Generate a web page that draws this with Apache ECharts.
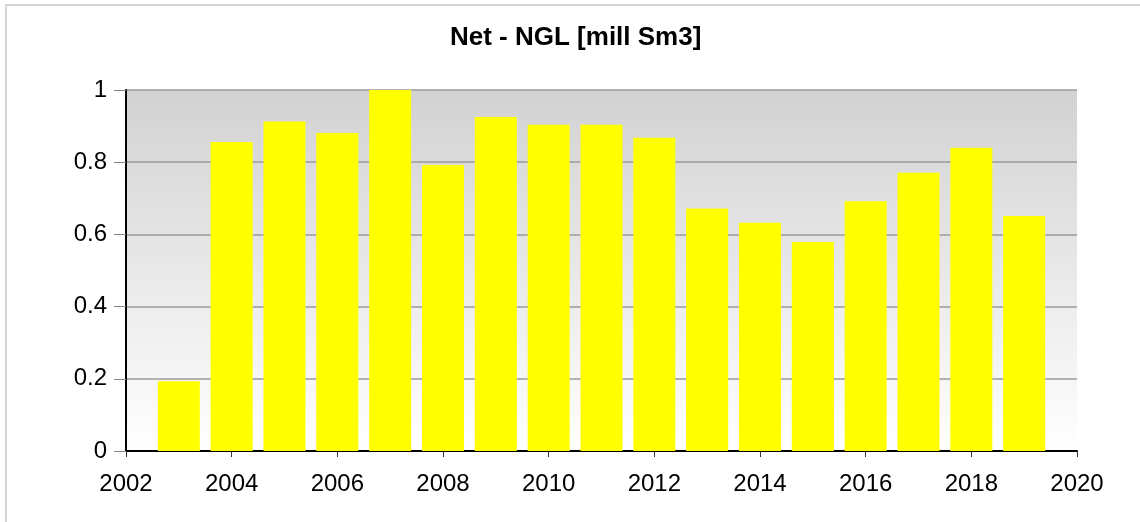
<!DOCTYPE html>
<html>
<head>
<meta charset="utf-8">
<script src="https://cdn.jsdelivr.net/npm/echarts@6/dist/echarts.min.js"></script>
<style>
  html, body { margin: 0; padding: 0; background: #fff; }
  #chart { width: 1140px; height: 522px; }
</style>
</head>
<body>
<div id="chart"></div>
<script>
// years and net NGL values (mill Sm3)
var years = [2003, 2004, 2005, 2006, 2007, 2008, 2009, 2010, 2011, 2012, 2013, 2014, 2015, 2016, 2017, 2018, 2019];
var netNGL = [0.193, 0.856, 0.913, 0.881, 1.0, 0.792, 0.925, 0.904, 0.904, 0.868, 0.672, 0.632, 0.579, 0.692, 0.771, 0.840, 0.651];

var chart = echarts.init(document.getElementById('chart'));

var font = 'Liberation Sans, Arial, sans-serif';

var option = {
    animation: false,
    backgroundColor: '#fff',
    title: {
        text: 'Net - NGL [mill Sm3]',
        left: 450,
        top: 25,
        padding: 0,
        textStyle: {
            fontFamily: font,
            fontSize: 26,
            fontWeight: 'bold',
            color: '#000'
        }
    },
    graphic: [{
        type: 'rect',
        shape: { x: 6, y: 5, width: 1200, height: 600 },
        style: { fill: 'none', stroke: '#d6d6d6', lineWidth: 2 },
        silent: true
    }],
    grid: {
        left: 126,
        right: 63,
        top: 90,
        bottom: 71,
        show: true,
        borderWidth: 0,
        backgroundColor: new echarts.graphic.LinearGradient(0, 0, 0, 1, [
            { offset: 0, color: '#d2d2d2' },
            { offset: 1, color: '#ffffff' }
        ])
    },
    xAxis: {
        type: 'value',
        min: 2002,
        max: 2020,
        interval: 2,
        axisLine: { show: true, lineStyle: { color: '#000', width: 2 } },
        axisTick: { show: true, length: 6, lineStyle: { color: '#333' } },
        axisLabel: {
            margin: 21,
            fontFamily: font,
            fontSize: 24,
            color: '#000',
            formatter: function (v) { return String(v); }
        },
        splitLine: { show: false }
    },
    yAxis: {
        type: 'value',
        min: 0,
        max: 1,
        interval: 0.2,
        axisLine: { show: true, lineStyle: { color: '#000', width: 2 } },
        axisTick: { show: true, length: 12, lineStyle: { color: '#888' } },
        axisLabel: {
            margin: 19,
            fontFamily: font,
            fontSize: 24,
            color: '#000'
        },
        splitLine: { show: true, lineStyle: { color: '#9a9a9a', width: 1.5 } }
    },
    series: [{
        type: 'bar',
        barWidth: 42,
        itemStyle: { color: '#ffff00' },
        data: years.map(function (y, i) {
            return [y, netNGL[i]];
        })
    }]
};

chart.setOption(option);
</script>
</body>
</html>
